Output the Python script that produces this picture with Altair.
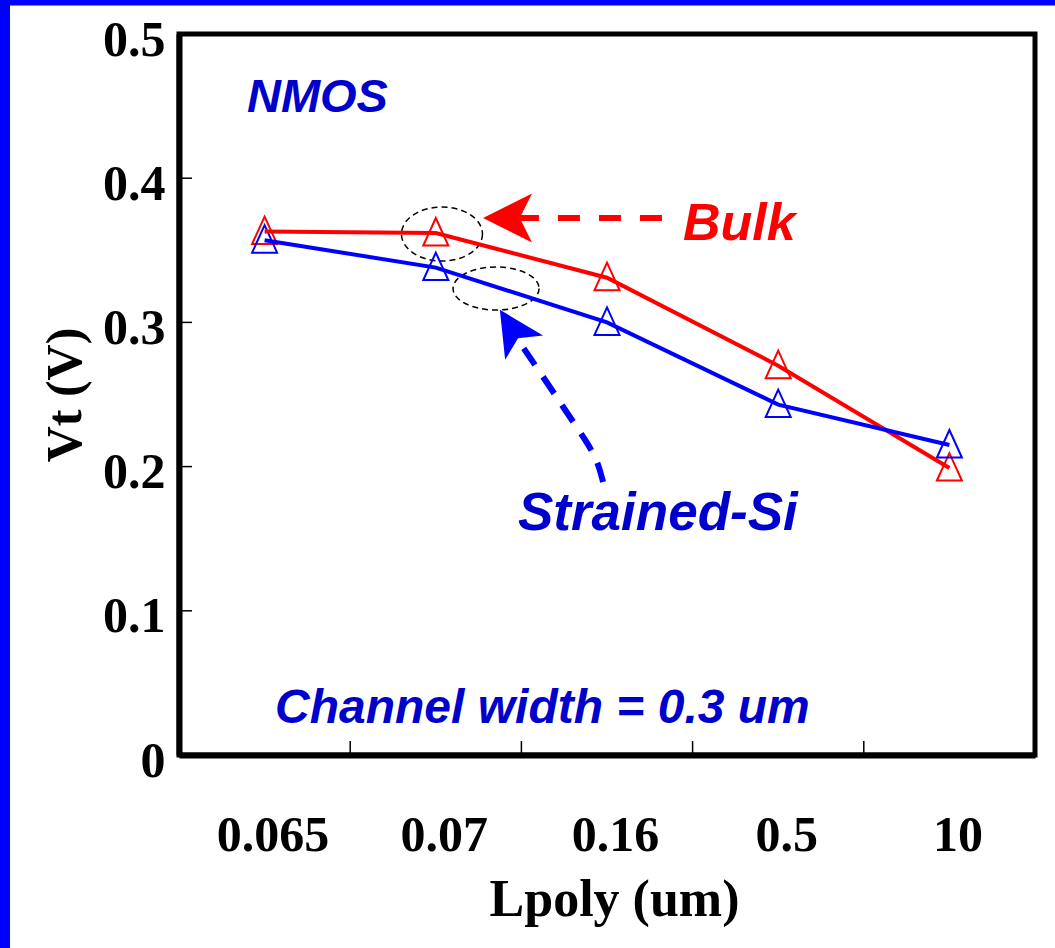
import altair as alt
import pandas as pd

# ---- data ----
categories = ["0.065", "0.07", "0.16", "0.5", "10"]
idx = [0, 1, 2, 3, 4]
bulk = [0.363, 0.362, 0.331, 0.270, 0.199]
strained = [0.357, 0.338, 0.300, 0.243, 0.215]
y_tick_values = [0, 0.1, 0.2, 0.3, 0.4, 0.5]
x_inner_ticks = [0.5, 1.5, 2.5, 3.5]
y_inner_ticks = [0.1, 0.2, 0.3, 0.4]

# annotation anchors (data coordinates)
ell1 = (1.036, 0.3613)
ell2 = (1.352, 0.3235)
red_arrow_head = (1.419, 0.3724)
red_shaft_x = [1.492, 2.321]
red_shaft_y = [0.3724, 0.3724]
blue_arrow_head = (1.445, 0.2956)
blue_curve_x = [1.977, 1.947, 1.883, 1.755, 1.620, 1.480]
blue_curve_y = [0.1893, 0.2032, 0.2171, 0.2393, 0.2635, 0.2878]

texts = [
    ("NMOS", -0.103, 0.4459, "#0000CC", 47),
    ("Bulk", 2.444, 0.3571, "#FF0000", 52),
    ("Strained-Si", 1.480, 0.156, "#0000CC", 53),
    ("Channel width = 0.3 um", 0.061, 0.0222, "#0000CC", 48),
]

W, H = 856, 721
PL, PT = 179, 34

label_expr = "[" + ",".join(f"'{c}'" for c in categories) + "][datum.value]"

xscale = alt.Scale(domain=[-0.5, 4.5], nice=False, zero=False)
yscale = alt.Scale(domain=[0, 0.5], nice=False, zero=False)

xaxis = alt.Axis(
    values=idx, labelExpr=label_expr, ticks=False, grid=False,
    domainColor="black", domainWidth=6, labelFont="Liberation Serif",
    labelFontWeight="bold", labelFontSize=50, labelColor="black",
    labelPadding=55, labelOffset=8, labelFlush=False, labelOverlap=False,
    labelBound=False, title="Lpoly (um)", titleFont="Liberation Serif",
    titleFontWeight="bold", titleFontSize=52, titleColor="black",
    titlePadding=14, titleX=435,
)
yaxis = alt.Axis(
    values=y_tick_values,
    labelExpr="datum.value == 0 ? '0' : format(datum.value, '.1f')",
    ticks=False, grid=False, domainColor="black", domainWidth=6,
    labelFont="Liberation Serif", labelFontWeight="bold", labelFontSize=50,
    labelColor="black", labelPadding=14, labelOffset=6, labelFlush=False,
    labelOverlap=False, labelBound=False, title="Vt (V)",
    titleFont="Liberation Serif", titleFontWeight="bold", titleFontSize=50,
    titleColor="black", titlePadding=12,
)


def X(field="x"):
    return alt.X(f"{field}:Q", scale=xscale, axis=xaxis)


def Y(field="y"):
    return alt.Y(f"{field}:Q", scale=yscale, axis=yaxis)


series = pd.DataFrame({
    "x": idx * 2,
    "y": bulk + strained,
    "s": ["Bulk"] * 5 + ["Strained-Si"] * 5,
})
sc = alt.Scale(domain=["Bulk", "Strained-Si"], range=["#FF0000", "#0000FF"])
color = alt.Color("s:N", scale=sc, legend=None)

base = alt.Chart(series)
lines = base.mark_line(strokeWidth=4).encode(x=X(), y=Y(), color=color, detail="s:N")
tri = "M0,-1.2L1,1L-1,1Z"
points = base.mark_point(shape=tri, size=625, filled=False, strokeWidth=2, opacity=1).encode(
    x=X(), y=Y(), stroke=alt.Stroke("s:N", scale=sc, legend=None)
)

# inner ticks
xt = pd.DataFrame({"x": x_inner_ticks, "y": [0] * 4, "y2": [0.0097] * 4})
xticks = alt.Chart(xt).mark_rule(color="black", strokeWidth=1.5).encode(x=X(), y=Y(), y2="y2:Q")
yt = pd.DataFrame({"y": y_inner_ticks, "x": [-0.5] * 4, "x2": [-0.424] * 4})
yticks = alt.Chart(yt).mark_rule(color="black", strokeWidth=1.5).encode(x=X(), x2="x2:Q", y=Y())


def ellipse_path(k):
    c = 0.5523
    return (f"M1,0C1,{k*c:.4f} {c},{k} 0,{k}C{-c},{k} -1,{k*c:.4f} -1,0"
            f"C-1,{-k*c:.4f} {-c},{-k} 0,{-k}C{c},{-k} 1,{-k*c:.4f} 1,0Z")


e1 = alt.Chart(pd.DataFrame({"x": [ell1[0]], "y": [ell1[1]]})).mark_point(
    shape=ellipse_path(0.667), size=81 * 81, filled=False, stroke="black",
    strokeWidth=1.5, strokeDash=[6, 4], opacity=1).encode(x=X(), y=Y())
e2 = alt.Chart(pd.DataFrame({"x": [ell2[0]], "y": [ell2[1]]})).mark_point(
    shape=ellipse_path(0.5), size=86 * 86, filled=False, stroke="black",
    strokeWidth=1.5, strokeDash=[6, 4], opacity=1).encode(x=X(), y=Y())

arrow = "M-1,0L1,-1L0.5,0L1,1Z"
red_head = alt.Chart(pd.DataFrame({"x": [red_arrow_head[0]], "y": [red_arrow_head[1]]})).mark_point(
    shape=arrow, size=49 * 49, filled=True, fill="#FF0000", strokeWidth=0, opacity=1).encode(x=X(), y=Y())
blue_head = alt.Chart(pd.DataFrame({"x": [blue_arrow_head[0]], "y": [blue_arrow_head[1]]})).mark_point(
    shape=arrow, size=45 * 45, filled=True, fill="#0000FF", strokeWidth=0, opacity=1,
    angle=57.4).encode(x=X(), y=Y())

red_shaft = alt.Chart(pd.DataFrame({"x": red_shaft_x[::-1], "y": red_shaft_y, "o": [0, 1]})).mark_line(
    color="#FF0000", strokeWidth=6, strokeDash=[22, 19]).encode(x=X(), y=Y(), order="o:Q")
blue_shaft = alt.Chart(pd.DataFrame({"x": blue_curve_x, "y": blue_curve_y,
                                     "o": list(range(len(blue_curve_x)))})).mark_line(
    color="#0000FF", strokeWidth=6, strokeDash=[20, 14], interpolate="basis").encode(
    x=X(), y=Y(), order="o:Q")

text_layers = []
for t, tx, ty, col, fs in texts:
    text_layers.append(
        alt.Chart(pd.DataFrame({"x": [tx], "y": [ty], "t": [t]})).mark_text(
            align="left", baseline="alphabetic", font="Liberation Sans",
            fontStyle="italic", fontWeight="bold", fontSize=fs, color=col
        ).encode(x=X(), y=Y(), text="t:N")
    )

one = pd.DataFrame({"a": [0]})
left_border = alt.Chart(one).mark_rule(color="#0000FF", strokeWidth=10).encode(
    x=alt.value(-PL + 5), y=alt.value(-PT), y2=alt.value(948 - PT))
top_border = alt.Chart(one).mark_rule(color="#0000FF", strokeWidth=5.5).encode(
    x=alt.value(-PL), x2=alt.value(1055 - PL), y=alt.value(-PT + 2.8))

chart = alt.layer(
    xticks, yticks, e1, e2, red_shaft, blue_shaft, red_head, blue_head,
    points, lines, *text_layers, left_border, top_border
).properties(
    width=W, height=H,
    padding={"left": PL, "top": PT, "right": 1055 - PL - W, "bottom": 948 - PT - H},
    autosize=alt.AutoSizeParams(type="none"),
    background="white",
).configure_view(stroke="black", strokeWidth=5)

chart.save("out.html", embed_options={"renderer": "svg", "actions": False})
